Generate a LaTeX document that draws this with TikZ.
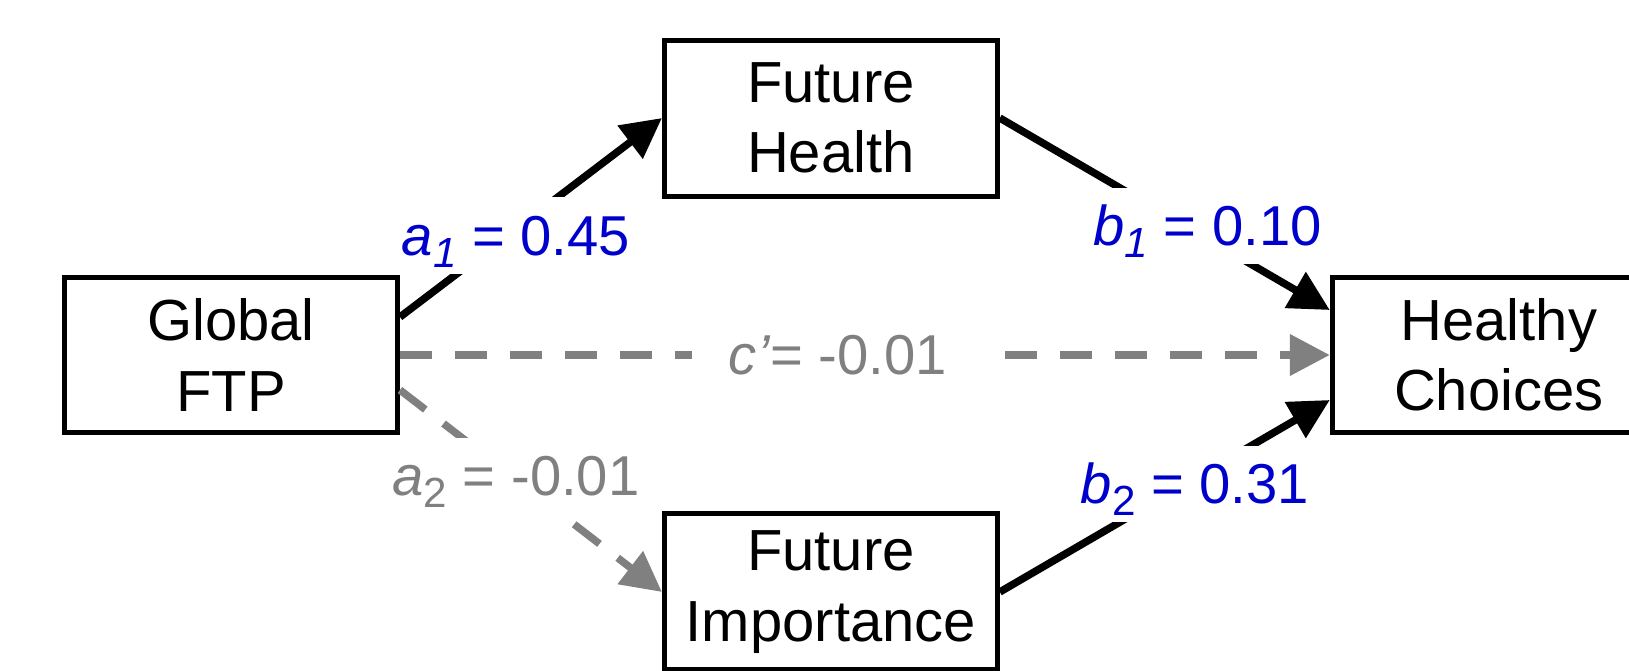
\documentclass[tikz,border=0pt]{standalone}
\usepackage{fontspec}
\setmainfont{Liberation Sans}
\usetikzlibrary{arrows.meta,positioning}
\definecolor{coefblue}{RGB}{0,0,204}
\definecolor{nsgray}{RGB}{128,128,128}
\newcommand{\pathsub}[1]{\raisebox{-0.22em}{\fontsize{24}{24}\selectfont #1}}

\begin{document}
\begin{tikzpicture}[
    x=0.02cm, y=-0.02cm,
    node distance=1.52cm and 5.24cm,
    every node/.style={font=\fontsize{33}{40}\selectfont},
    var/.style={draw, line width=0.1cm, align=center, minimum width=6.66cm, minimum height=3.12cm, inner sep=0pt},
    coef/.style={fill=white, inner xsep=0.2cm, inner ysep=0.1cm, text height=30pt, text depth=8pt, font=\fontsize{32}{36}\selectfont},
    effect/.style={-{Triangle[length=0.8cm, width=0.8cm]}, line width=0.15cm},
    nseffect/.style={effect, nsgray, dash pattern=on 0.64cm off 0.46cm}
]
\useasboundingbox (0,0) rectangle (1629,670);
\node[var] (gftp) at (231,355) {Global\\FTP};
\node[var, above right=of gftp] (fhealth) {Future\\Health};
\node[var, below right=of gftp] (fimp) {Future\\Importance};
\node[var, right=18.6cm of gftp] (hchoice) {Healthy\\Choices};
% direct effect
\draw[nseffect] (gftp.east) -- node[coef, pos=0.471, inner xsep=0.74cm, text=nsgray] (cc) {\textit{c’}= -0.01} (hchoice.west);
% mediator paths
\draw[effect] ([yshift=0.76cm]gftp.east) -- node[coef, pos=0.443, yshift=-0.14cm, text=coefblue] (ca1) {\textit{a}\pathsub{\textit{1}} = 0.45} (fhealth.west);
\draw[effect] (fhealth.east) -- node[coef, pos=0.63, yshift=0.26cm, text=coefblue] (cb1) {\textit{b}\pathsub{\textit{1}} = 0.10} ([yshift=0.9cm]hchoice.west);
\draw[nseffect] ([yshift=-0.7cm]gftp.east) -- node[coef, pos=0.443, yshift=0.07cm, text=nsgray] (ca2) {\textit{a}\pathsub{2} = -0.01} (fimp.west);
\draw[effect] (fimp.east) -- node[coef, pos=0.591, yshift=-0.11cm, text=coefblue] (cb2) {\textit{b}\pathsub{2} = 0.31} ([yshift=-0.9cm]hchoice.west);
\end{tikzpicture}
\end{document}
